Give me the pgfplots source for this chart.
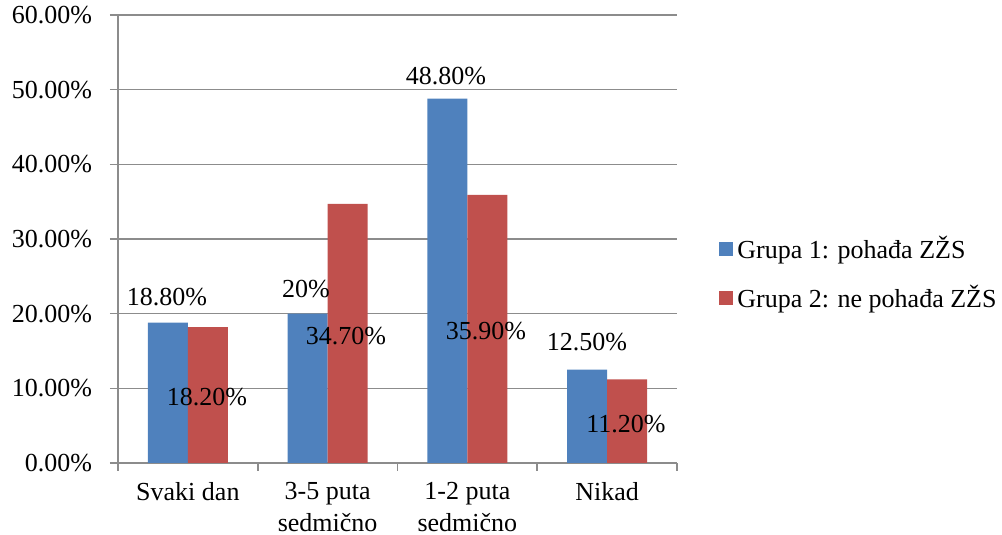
\documentclass[border=0pt]{standalone}
\usepackage{pgfplots}
\pgfplotsset{compat=1.18}
\usepackage{fontspec}
\setmainfont{Liberation Serif}

\definecolor{grpblue}{HTML}{4F81BD}
\definecolor{grpred}{HTML}{C0504D}
\definecolor{axgray}{HTML}{8C8C8C}

\begin{document}
\begin{tikzpicture}[font=\fontsize{13}{16}\selectfont]
\useasboundingbox (0,0) rectangle (501pt,267.5pt);
\begin{axis}[
  at={(59pt,36pt)}, anchor=south west,
  scale only axis,
  width=279.5pt, height=224pt,
  ybar=0pt, bar width=20pt,
  xmin=-0.5, xmax=3.5,
  ymin=0, ymax=60,
  axis lines=left,
  axis line style={axgray, line width=0.8pt, -},
  xtick={0,1,2,3},
  xticklabels={Svaki dan, {3-5 puta\\sedmično}, {1-2 puta\\sedmično}, Nikad},
  xticklabel style={align=center, text depth=0pt, yshift=-2pt,
    font=\fontsize{13}{16.3}\selectfont},
  major x tick style={draw=none},
  minor xtick={-0.5,0.5,1.5,2.5,3.5},
  minor x tick style={axgray, line width=0.8pt},
  minor tick length=4pt,
  ytick={0,10,20,30,40,50,60},
  yticklabel={\pgfmathprintnumber[fixed,fixed zerofill,precision=2]{\tick}\%},
  yticklabel style={xshift=-5.5pt},
  /pgf/number format/assume math mode=true,
  major y tick style={axgray, line width=0.8pt},
  major tick length=4pt,
  tick align=outside,
  ymajorgrids,
  grid style={axgray, line width=0.8pt},
  legend style={draw=none, fill=none, at={(1.075,0.423)}, anchor=west,
    inner sep=0pt, row sep=8pt, font=\fontsize{13}{16}\selectfont},
  legend cell align=left,
  legend image code/.code={\fill (0pt,-3.5pt) rectangle (7pt,3.5pt);},
  clip=false,
]
\addplot[fill=grpblue, draw=none] coordinates {(0,18.8) (1,20) (2,48.8) (3,12.5)};
\addplot[fill=grpred, draw=none] coordinates {(0,18.2) (1,34.7) (2,35.9) (3,11.2)};
\legend{Grupa 1: pohađa ZŽS, Grupa 2: ne pohađa ZŽS}

% value labels
\node at (axis cs:-0.149,22.23) {18.80\%};
\node at (axis cs:0.845,23.30) {20\%};
\node at (axis cs:1.847,51.83) {48.80\%};
\node at (axis cs:2.856,16.21) {12.50\%};
\node at (axis cs:0.137,8.84) {18.20\%};
\node at (axis cs:1.132,17.01) {34.70\%};
\node at (axis cs:2.133,17.68) {35.90\%};
\node at (axis cs:3.135,5.22) {11.20\%};
\end{axis}
\end{tikzpicture}
\end{document}
